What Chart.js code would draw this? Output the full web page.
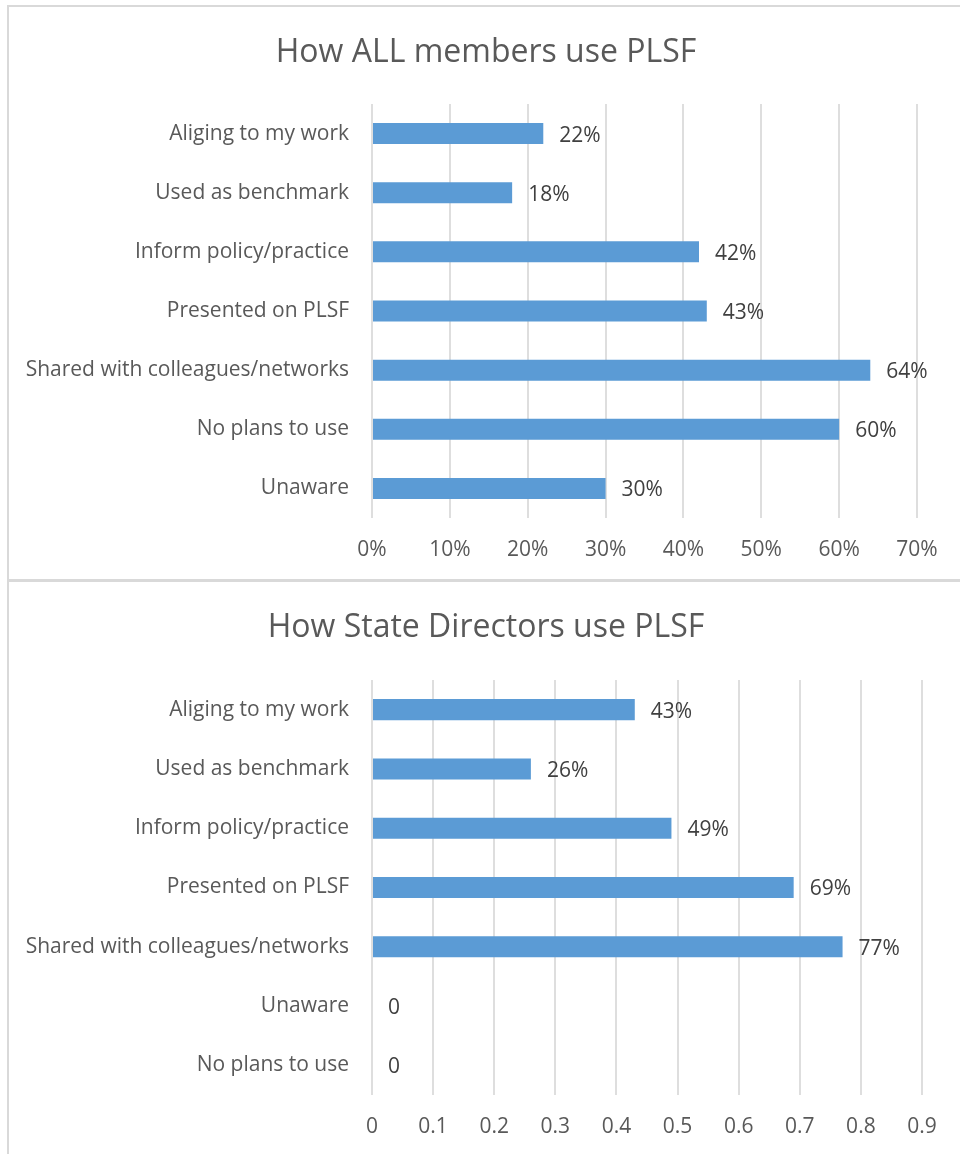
<!DOCTYPE html>
<html>
<head>
<meta charset="utf-8">
<title>How members use PLSF</title>
<script src="https://cdn.jsdelivr.net/npm/chart.js@4.4.0/dist/chart.umd.min.js"></script>
<style>
  html, body { margin: 0; padding: 0; background: #fff; overflow: hidden; }
  body { width: 960px; height: 1154px; position: relative; }
  .frame { position: absolute; left: 7px; width: 1000px; border: 2px solid #d9d9d9; box-sizing: border-box; }
  #frameTop { top: 5px; height: 577px; }
  #frameBottom { top: 579px; height: 620px; }
  canvas { position: absolute; left: 0; }
  #allChart { top: 0; }
  #stateChart { top: 580px; }
</style>
</head>
<body>
<div class="frame" id="frameTop"></div>
<div class="frame" id="frameBottom"></div>
<canvas id="allChart" width="960" height="580"></canvas>
<canvas id="stateChart" width="960" height="574"></canvas>
<script>
// categories and values for both panels
const allCategories = ['Aliging to my work', 'Used as benchmark', 'Inform policy/practice',
  'Presented on PLSF', 'Shared with colleagues/networks', 'No plans to use', 'Unaware'];
const allValues = [22, 18, 42, 43, 64, 60, 30];          // percent
const allTicks = [0, 10, 20, 30, 40, 50, 60, 70];

const stateCategories = ['Aliging to my work', 'Used as benchmark', 'Inform policy/practice',
  'Presented on PLSF', 'Shared with colleagues/networks', 'Unaware', 'No plans to use'];
const stateValues = [0.43, 0.26, 0.49, 0.69, 0.77, 0, 0]; // share
const stateTicks = [0, 0.1, 0.2, 0.3, 0.4, 0.5, 0.6, 0.7, 0.8, 0.9];

const FONT = '"Open Sans", "Noto Sans", sans-serif';
const BAR = '#5b9bd5';
const GRID = '#dedede';
const TEXT = '#595959';

Chart.defaults.font.family = FONT;
Chart.defaults.color = TEXT;

// chart title, centred on the whole frame rather than the plot
const frameTitle = {
  id: 'frameTitle',
  afterDraw(chart, args, opts) {
    const ctx = chart.ctx;
    ctx.save();
    ctx.font = '32px ' + FONT;
    ctx.fillStyle = TEXT;
    ctx.textAlign = 'center';
    ctx.textBaseline = 'alphabetic';
    ctx.fillText(opts.text, opts.x, opts.y);
    ctx.restore();
  }
};

// writes each bar's value just past its end
const valueLabels = {
  id: 'valueLabels',
  afterDatasetsDraw(chart, args, opts) {
    const ctx = chart.ctx;
    const ds = chart.data.datasets[0];
    ctx.save();
    ctx.font = '21px ' + FONT;
    ctx.fillStyle = '#404040';
    ctx.textBaseline = 'middle';
    ctx.textAlign = 'left';
    chart.getDatasetMeta(0).data.forEach((bar, i) => {
      ctx.fillText(opts.format(ds.data[i]), bar.x + 16, bar.y + 2);
    });
    ctx.restore();
  }
};

function makeChart(id, labels, values, ticks, cfg) {
  return new Chart(document.getElementById(id), {
    type: 'bar',
    data: {
      labels: labels,
      datasets: [{
        data: values,
        backgroundColor: BAR,
        borderWidth: 0,
        categoryPercentage: 1,
        barPercentage: 0.355
      }]
    },
    options: {
      indexAxis: 'y',
      responsive: false,
      animation: false,
      layout: { padding: { left: 0, right: cfg.padRight, top: cfg.plotTop, bottom: 0 } },
      plugins: {
        legend: { display: false },
        tooltip: { enabled: false },
        title: { display: false },
        frameTitle: { text: cfg.title, x: 486, y: cfg.titleY },
        valueLabels: { format: cfg.format }
      },
      scales: {
        x: {
          min: ticks[0],
          max: ticks[ticks.length - 1],
          afterBuildTicks(s) { s.ticks = ticks.map(v => ({ value: v })); },
          afterFit(s) { s.height = cfg.axisHeight; },
          grid: { color: GRID, lineWidth: 2, drawTicks: false },
          border: { display: false },
          ticks: {
            padding: 19,
            color: TEXT,
            font: { size: 21 },
            callback: cfg.tickFormat
          }
        },
        y: {
          afterFit(s) { s.width = 372; },
          grid: { display: false, drawTicks: false },
          border: { display: false },
          ticks: { padding: 23, color: TEXT, font: { size: 21 } }
        }
      }
    },
    plugins: [valueLabels, frameTitle]
  });
}

makeChart('allChart', allCategories, allValues, allTicks, {
  title: 'How ALL members use PLSF',
  titleY: 62,
  padRight: 43,
  plotTop: 104,
  axisHeight: 62,
  tickFormat: v => v + '%',
  format: v => v + '%'
});

makeChart('stateChart', stateCategories, stateValues, stateTicks, {
  title: 'How State Directors use PLSF',
  titleY: 57,
  padRight: 38,
  plotTop: 100,
  axisHeight: 59,
  tickFormat: v => String(Math.round(v * 10) / 10),
  format: v => v === 0 ? '0' : Math.round(v * 100) + '%'
});
</script>
</body>
</html>
